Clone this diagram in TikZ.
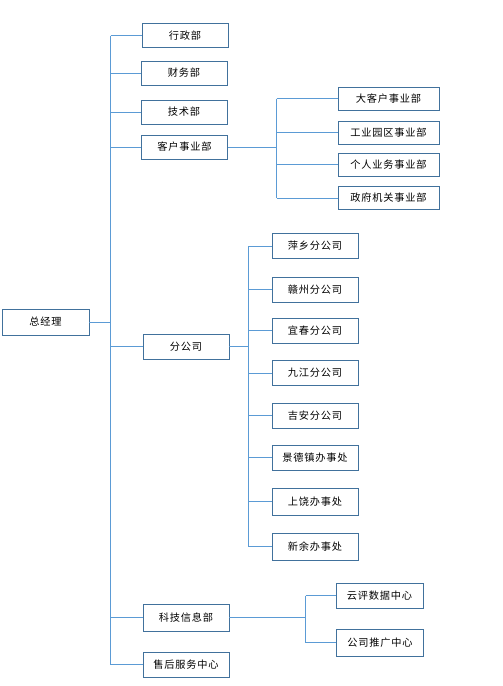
\documentclass[tikz,border=0pt]{standalone}
\usepackage{fontspec}
\setmainfont{Noto Sans CJK SC}[LetterSpace=8]
\usepackage{xcolor}
\definecolor{boxline}{HTML}{41719C}
\definecolor{linkline}{HTML}{5B9BD5}

\begin{document}
\begin{tikzpicture}[x=1pt, y=-1pt,
    unit/.style={draw=boxline, line width=0.9pt, fill=white, inner sep=0pt,
                 minimum width=86pt, minimum height=24pt, font=\fontsize{10.2}{12}\selectfont},
    link/.style={draw=linkline, line width=0.8pt}]
    \useasboundingbox (0,0) rectangle (503,686);

    % top level
    \node[unit, minimum width=87pt, minimum height=26pt] (boss) at (45.5,322) {总经理};

    % departments
    \node[unit] (xingzheng) at (185,35.5) {行政部};
    \node[unit] (caiwu)     at (184,73)   {财务部};
    \node[unit] (jishu)     at (184,112)  {技术部};
    \node[unit] (kehu)      at (184.5,147) {客户事业部};
    \node[unit, minimum height=25pt] (fengongsi) at (186,346.5) {分公司};
    \node[unit, minimum height=27pt] (keji) at (186,617.5) {科技信息部};
    \node[unit, minimum height=25pt] (shouhou) at (186,664.5) {售后服务中心};

    % customer business units
    \node[unit, minimum width=101pt, minimum height=23pt] (dakehu)   at (388.5,98.5)  {大客户事业部};
    \node[unit, minimum width=101pt, minimum height=23pt] (gongye)   at (388.5,132.5) {工业园区事业部};
    \node[unit, minimum width=101pt, minimum height=23pt] (geren)    at (388.5,164.5) {个人业务事业部};
    \node[unit, minimum width=101pt, minimum height=23pt] (zhengfu)  at (388.5,198)   {政府机关事业部};

    % branches
    \node[unit, minimum width=86pt, minimum height=25pt] (pingxiang)   at (315,246)   {萍乡分公司};
    \node[unit, minimum width=86pt, minimum height=25pt] (ganzhou)     at (315,289.5) {赣州分公司};
    \node[unit, minimum width=86pt, minimum height=25pt] (yichun)      at (315,330.5) {宜春分公司};
    \node[unit, minimum width=86pt, minimum height=25pt] (jiujiang)    at (315,373)   {九江分公司};
    \node[unit, minimum width=86pt, minimum height=25pt] (jian)        at (315,415.5) {吉安分公司};
    \node[unit, minimum width=86pt, minimum height=25pt] (jingdezhen)  at (315,457.5) {景德镇办事处};
    \node[unit, minimum width=86pt, minimum height=27pt] (shangrao)    at (315,501.5) {上饶办事处};
    \node[unit, minimum width=86pt, minimum height=27pt] (xinyu)       at (315,546.5) {新余办事处};

    % tech centres
    \node[unit, minimum width=87pt, minimum height=25pt] (yunping)  at (379.5,595.5) {云评数据中心};
    \node[unit, minimum width=87pt, minimum height=27pt] (tuiguang) at (380,642.5)   {公司推广中心};

    % trunk points
    \coordinate (mainbus) at (110.5,0);
    \coordinate (kehubus) at (276.5,0);
    \coordinate (fenbus)  at (248.5,0);
    \coordinate (kejibus) at (305.5,0);

    % main trunk
    \draw[link] (xingzheng.west -| mainbus) -- (shouhou.west -| mainbus);
    \draw[link] (boss.east) -- (boss.east -| mainbus);
    \foreach \d in {xingzheng,caiwu,jishu,kehu,fengongsi,keji,shouhou}
      \draw[link] (\d.west -| mainbus) -- (\d.west);

    % customer units
    \draw[link] (kehu.east) -- (kehu.east -| kehubus);
    \draw[link] (dakehu.west -| kehubus) -- (zhengfu.west -| kehubus);
    \foreach \d in {dakehu,gongye,geren,zhengfu}
      \draw[link] (\d.west -| kehubus) -- (\d.west);

    % branches
    \draw[link] (fengongsi.east) -- (fengongsi.east -| fenbus);
    \draw[link] (pingxiang.west -| fenbus) -- (xinyu.west -| fenbus);
    \foreach \d in {pingxiang,ganzhou,yichun,jiujiang,jian,jingdezhen,shangrao,xinyu}
      \draw[link] (\d.west -| fenbus) -- (\d.west);

    % tech centres
    \draw[link] (keji.east) -- (keji.east -| kejibus);
    \draw[link] (yunping.west -| kejibus) -- (tuiguang.west -| kejibus);
    \foreach \d in {yunping,tuiguang}
      \draw[link] (\d.west -| kejibus) -- (\d.west);
\end{tikzpicture}
\end{document}
